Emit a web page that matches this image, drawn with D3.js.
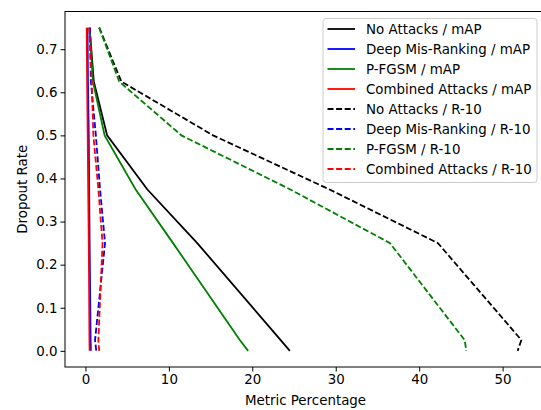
<!DOCTYPE html>
<html>
<head>
<meta charset="utf-8">
<script src="https://cdn.jsdelivr.net/npm/d3@7"></script>
<style>
  body { margin: 0; background: #fff; }
  svg { font-family: "DejaVu Sans", sans-serif; }
</style>
</head>
<body>
<svg id="chart"></svg>
<script>
// dropout levels shared by every series
const dropout = [0.75, 0.625, 0.5, 0.375, 0.25, 0.025, 0];

const noAttackMAP    = [0.5, 1.0, 2.6, 7.4, 13.4, 23.4, 24.5];
const deepMisMAP     = [0.25, 0.3, 0.4, 0.45, 0.5, 0.62, 0.65];
const pfgsmMAP       = [0.5, 0.9, 2.3, 6.0, 10.5, 18.5, 19.5];
const combinedMAP    = [0.15, 0.2, 0.27, 0.33, 0.4, 0.48, 0.5];
const noAttackR10    = [1.65, 4.3, 15.3, 29.2, 42.25, 52.25, 51.8];
const deepMisR10     = [0.55, 0.65, 1.25, 1.75, 2.35, 1.15, 1.3];
const pfgsmR10       = [1.65, 4.05, 11.5, 24.5, 36.5, 45.45, 45.65];
const combinedR10    = [0.45, 0.75, 0.95, 1.55, 2.05, 1.55, 1.65];

const seriesNames = [
  "No Attacks / mAP", "Deep Mis-Ranking / mAP", "P-FGSM / mAP", "Combined Attacks / mAP",
  "No Attacks / R-10", "Deep Mis-Ranking / R-10", "P-FGSM / R-10", "Combined Attacks / R-10"
];
const seriesValues = [noAttackMAP, deepMisMAP, pfgsmMAP, combinedMAP,
                      noAttackR10, deepMisR10, pfgsmR10, combinedR10];
const seriesColors = ["#000000", "#0000ff", "#008000", "#ff0000",
                      "#000000", "#0000ff", "#008000", "#ff0000"];
const seriesDashed = [false, false, false, false, true, true, true, true];

const xTicks = [0, 10, 20, 30, 40, 50];
const yTicks = [0, 0.1, 0.2, 0.3, 0.4, 0.5, 0.6, 0.7];

const width = 541, height = 410;
const margin = { top: 11.5, right: -5, bottom: 43, left: 65 };
const fontSize = 13.4;
const dash = "6,2.6";

const svg = d3.select("#chart")
  .attr("width", width)
  .attr("height", height);

let x = d3.scaleLinear()
  .domain([-2.45, 55.2])
  .range([margin.left, width - margin.right]);

let y = d3.scaleLinear()
  .domain([-0.0375, 0.7875])
  .range([height - margin.bottom, margin.top]);

let main = svg.append("g").attr("class", "main");

let line = d3.line()
  .x(d => x(d[0]))
  .y(d => y(d[1]));

seriesValues.forEach((vals, i) => {
  main.append("path")
    .datum(vals.map((v, j) => [v, dropout[j]]))
    .attr("fill", "none")
    .attr("stroke", seriesColors[i])
    .attr("stroke-width", 1.8)
    .attr("stroke-dasharray", seriesDashed[i] ? dash : null)
    .attr("d", line);
});

// axes
let xAxis = d3.axisBottom(x).tickValues(xTicks).tickFormat(d3.format("d"))
  .tickSizeOuter(0).tickSizeInner(4.5).tickPadding(3);
let yAxis = d3.axisLeft(y).tickValues(yTicks).tickFormat(d3.format(".1f"))
  .tickSizeOuter(0).tickSizeInner(4.5).tickPadding(3);

let gx = svg.append("g")
  .attr("transform", `translate(0, ${height - margin.bottom})`)
  .call(xAxis);
let gy = svg.append("g")
  .attr("transform", `translate(${margin.left}, 0)`)
  .call(yAxis);

[gx, gy].forEach(g => {
  g.selectAll("text").attr("font-size", fontSize).attr("fill", "#000")
    .attr("font-family", "DejaVu Sans, sans-serif");
  g.selectAll("line").attr("stroke", "#000");
  g.select(".domain").remove();
});

// frame
svg.append("rect")
  .attr("x", x.range()[0]).attr("y", y.range()[1])
  .attr("width", x.range()[1] - x.range()[0])
  .attr("height", y.range()[0] - y.range()[1])
  .attr("fill", "none").attr("stroke", "#000").attr("stroke-width", 1);

svg.append("text")
  .attr("x", (x.range()[0] + x.range()[1]) / 2)
  .attr("y", 405)
  .attr("text-anchor", "middle")
  .attr("font-size", fontSize)
  .text("Metric Percentage");

svg.append("text")
  .attr("transform", `translate(27, ${(y.range()[0] + y.range()[1]) / 2}) rotate(-90)`)
  .attr("text-anchor", "middle")
  .attr("font-size", fontSize)
  .text("Dropout Rate");

// legend
let legend = svg.append("g").attr("transform", "translate(323, 18.5)");
legend.append("rect")
  .attr("width", 214).attr("height", 164)
  .attr("rx", 3)
  .attr("fill", "#fff").attr("fill-opacity", 0.8)
  .attr("stroke", "#cccccc");

seriesNames.forEach((name, i) => {
  let row = legend.append("g").attr("transform", `translate(0, ${10.5 + i * 20})`);
  row.append("line")
    .attr("x1", 4.5).attr("x2", 32)
    .attr("stroke", seriesColors[i])
    .attr("stroke-width", 1.8)
    .attr("stroke-dasharray", seriesDashed[i] ? dash : null);
  row.append("text")
    .attr("x", 43).attr("y", 4.7)
    .attr("font-size", fontSize)
    .text(name);
});
</script>
</body>
</html>
